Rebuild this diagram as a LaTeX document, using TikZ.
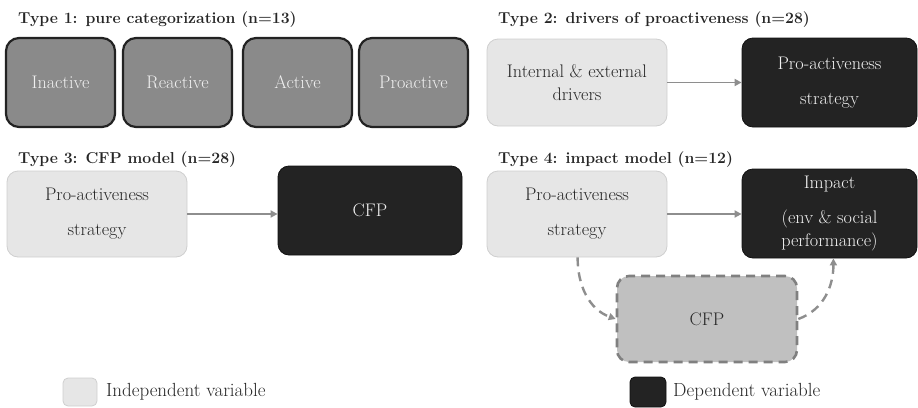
\documentclass[tikz,border=0pt]{standalone}
\usetikzlibrary{arrows.meta,calc}
\definecolor{catfill}{HTML}{8A8A8A}
\definecolor{catline}{HTML}{222222}
\definecolor{lightfill}{HTML}{E6E6E6}
\definecolor{lightline}{HTML}{CFCFCF}
\definecolor{darkfill}{HTML}{232323}
\definecolor{darkline}{HTML}{111111}
\definecolor{medfill}{HTML}{C0C0C0}
\definecolor{medline}{HTML}{808080}
\definecolor{arrowcol}{HTML}{8E8E8E}
\definecolor{txt}{HTML}{262626}
\tikzset{
  title/.style={anchor=base west, font=\fontsize{15.8}{20}\selectfont\bfseries, text=txt, inner sep=0pt},
  boxtxt/.style={font=\fontsize{18.2}{23}\selectfont, align=center, inner sep=0pt},
  catbox/.style={boxtxt, draw=catline, line width=2.2pt, fill=catfill, rounded corners=13pt, text=white!94!black},
  indbox/.style={boxtxt, draw=lightline, line width=0.8pt, fill=lightfill, rounded corners=11pt, text=txt},
  depbox/.style={boxtxt, draw=darkline, line width=0.8pt, fill=darkfill, rounded corners=11pt, text=white!95!black},
  medbox/.style={boxtxt, draw=medline, line width=2.6pt, dash pattern=on 9pt off 6pt, fill=medfill, rounded corners=12pt, text=txt},
  conn/.style={draw=arrowcol, line width=1.8pt, -{Triangle[length=7pt,width=7pt]}},
  dconn/.style={conn, line width=2.4pt, dash pattern=on 9pt off 6pt},
  legtxt/.style={anchor=west, font=\fontsize{19}{22}\selectfont, text=txt, inner sep=0pt},
}
\begin{document}
\begin{tikzpicture}[x=1pt,y=-1pt]
\useasboundingbox (0,0) rectangle (918,407);

% Type 1
\node[title] (t1) at (18,23) {Type 1: pure categorization (n=13)};
\node[catbox, minimum width=109pt, minimum height=89pt] (c1) at (60.5,82.5) {Inactive};
\node[catbox, minimum width=109pt, minimum height=89pt] (c2) at (177.5,82.5) {Reactive};
\node[catbox, minimum width=109pt, minimum height=89pt] (c3) at (297.5,82.5) {Active};
\node[catbox, minimum width=109pt, minimum height=89pt] (c4) at (413.5,82.5) {Proactive};

% Type 2
\node[title] (t2) at (498,23) {Type 2: drivers of proactiveness (n=28)};
\node[indbox, minimum width=180pt, minimum height=87pt] (l2) at (577,82.5) {Internal \& external\\drivers};
\node[depbox, minimum width=175pt, minimum height=89pt] (d2) at (829.5,82.5) {Pro-activeness\\[12pt]strategy};
\path[conn] (l2.east) -- (d2.west);

% Type 3
\node[title] (t3) at (18,163) {Type 3: CFP model (n=28)};
\node[indbox, minimum width=180pt, minimum height=86pt] (l3) at (97,214) {Pro-activeness\\[12pt]strategy};
\node[depbox, minimum width=184pt, minimum height=89pt] (d3) at (370,210.5) {CFP};
\path[conn] (l3.east) -- (l3.east -| d3.west);

% Type 4
\node[title] (t4) at (498,163) {Type 4: impact model (n=12)};
\node[indbox, minimum width=180pt, minimum height=86pt] (l4) at (577,214) {Pro-activeness\\[12pt]strategy};
\node[depbox, minimum width=175pt, minimum height=89pt] (d4) at (829.5,213.5) {Impact\\[12pt](env \& social\\performance)};
\node[medbox, minimum width=180pt, minimum height=86pt] (m4) at (707,319) {CFP};
\path[conn] (l4.east) -- (l4.east -| d4.west);
\path[dconn] ([xshift=91pt]l4.south west) to[out=-90,in=160] (m4.west);
\path[dconn] (m4.east) to[out=20,in=-90] ([xshift=-84pt]d4.south east);

% Legend
\node[draw=lightline, fill=lightfill, line width=0.8pt, rounded corners=5pt, minimum width=34pt, minimum height=28pt, inner sep=0pt] (li) at (80,392) {};
\node[legtxt] (lit) at (106,392) {Independent variable};
\node[draw=darkline, fill=darkfill, line width=0.8pt, rounded corners=5pt, minimum width=36pt, minimum height=30pt, inner sep=0pt] (ld) at (648,392) {};
\node[legtxt] (ldt) at (673,392) {Dependent variable};
\end{tikzpicture}
\end{document}
